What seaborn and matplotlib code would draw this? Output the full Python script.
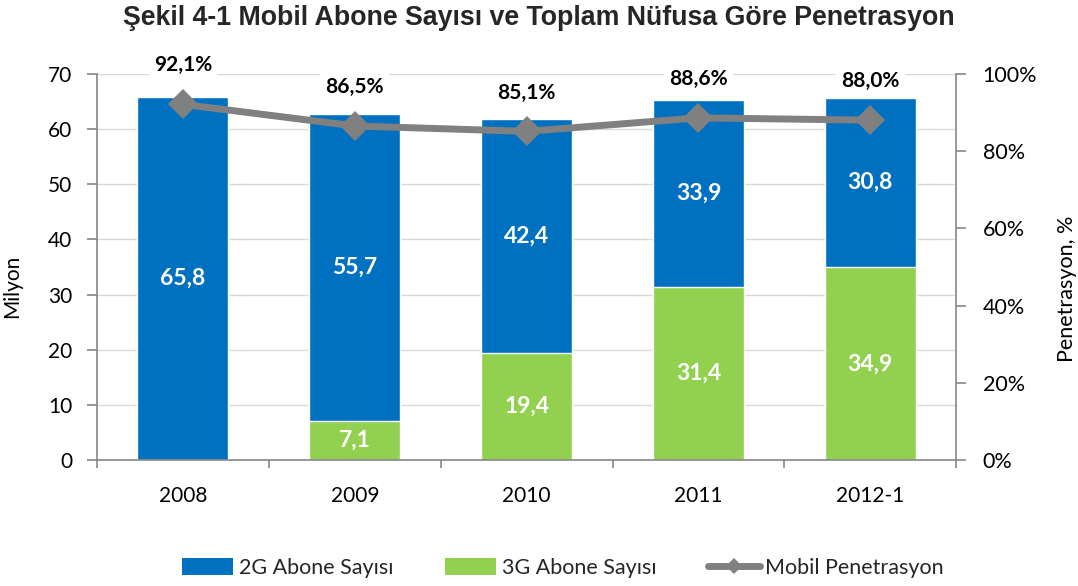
import matplotlib
matplotlib.use("Agg")
import matplotlib.pyplot as plt
from matplotlib.patches import Patch
from matplotlib.lines import Line2D
from matplotlib.ticker import FixedLocator, FuncFormatter
import seaborn as sns
import pandas as pd

# Subscriber counts (millions) and penetration (%) per period
years = ["2008", "2009", "2010", "2011", "2012-1"]
abone_2g = [65.8, 55.7, 42.4, 33.9, 30.8]
abone_3g = [0.0, 7.1, 19.4, 31.4, 34.9]
penetrasyon = [92.1, 86.5, 85.1, 88.6, 88.0]

BLUE = "#0070C0"
GREEN = "#92D050"
GRAY = "#808080"
AXIS = "#868686"
GRID = "#D9D9D9"

sns.set_theme(style="white")
plt.rcParams["font.family"] = ["Lato", "DejaVu Sans"]

df = pd.DataFrame({"yil": years, "g2": abone_2g, "g3": abone_3g, "pen": penetrasyon})
df["toplam"] = df["g2"] + df["g3"]

fig = plt.figure(figsize=(10.78, 5.86), dpi=100)
ax = fig.add_axes([0.09, 0.215, 0.797, 0.659])

# stacked columns: total in blue, 3G share drawn over the lower part in green
sns.barplot(data=df, x="yil", y="toplam", color=BLUE, saturation=1, width=0.53, ax=ax)
sns.barplot(data=df, x="yil", y="g3", color=GREEN, saturation=1, width=0.53, ax=ax)
ax.set_xlim(-0.5, len(years) - 0.5)
ax.set_ylim(0, 70)
ax.set_yticks(range(0, 71, 10))
ax.set_axisbelow(True)
ax.yaxis.grid(True, color=GRID, linewidth=1)
ax.xaxis.grid(False)

for i, row in df.iterrows():
    ax.text(i, row["g3"] + row["g2"] / 2, f"{row['g2']:.1f}".replace(".", ","),
            ha="center", va="center", color="white", fontsize=16.5, fontweight="bold")
    if row["g3"] > 0:
        ax.text(i, row["g3"] / 2, f"{row['g3']:.1f}".replace(".", ","),
                ha="center", va="center", color="white", fontsize=16.5, fontweight="bold")

for side in ["top", "right"]:
    ax.spines[side].set_visible(False)
for side in ["left", "bottom"]:
    ax.spines[side].set_color(AXIS)
    ax.spines[side].set_linewidth(1.2)

ax.tick_params(axis="y", which="major", direction="out", length=7, width=1.2,
               color=AXIS, pad=11, labelsize=15, labelcolor="black", left=True)
ax.tick_params(axis="x", which="major", length=0, pad=19, labelsize=15, labelcolor="black")
ax.xaxis.set_minor_locator(FixedLocator([k - 0.5 for k in range(len(years) + 1)]))
ax.tick_params(axis="x", which="minor", direction="out", length=6, width=1.2,
               color=AXIS, bottom=True)
ax.set_xlabel("")
ax.set_ylabel("Milyon", fontsize=15, color="black")
ax.yaxis.set_label_coords(-0.087, 0.45)

# penetration line on the secondary axis
ax2 = ax.twinx()
sns.lineplot(x=list(range(len(years))), y=penetrasyon, ax=ax2, color=GRAY,
             linewidth=5, marker="D", markersize=15, markeredgewidth=0, sort=False)
ax2.set_ylim(0, 100)
ax2.set_yticks(range(0, 101, 20))
ax2.yaxis.set_major_formatter(FuncFormatter(lambda v, _: f"{v:.0f}%"))
ax2.set_xlim(-0.5, len(years) - 0.5)
for side in ["top", "left", "bottom"]:
    ax2.spines[side].set_visible(False)
ax2.spines["right"].set_color(AXIS)
ax2.spines["right"].set_linewidth(1.2)
ax2.tick_params(axis="y", direction="out", length=7, width=1.2, color=AXIS,
                pad=12, labelsize=15.5, labelcolor="black", right=True)
ax2.grid(False)
ax2.set_ylabel("Penetrasyon, %", fontsize=15.5, color="black")
ax2.yaxis.set_label_coords(1.117, 0.443)

for i, p in enumerate(penetrasyon):
    ax2.annotate(f"{p:.1f}%".replace(".", ","), (i, p), xytext=(0, 28),
                 textcoords="offset points", ha="center", va="center",
                 fontsize=15, fontweight="bold", color="black",
                 bbox=dict(boxstyle="square,pad=0.25", fc="white", ec="none"))

fig.text(0.5, 0.969, "Şekil 4-1 Mobil Abone Sayısı ve Toplam Nüfusa Göre Penetrasyon",
         ha="center", va="center", fontsize=19.3, fontweight="bold",
         family=["Liberation Sans", "DejaVu Sans"])

handles = [
    Patch(facecolor=BLUE, edgecolor="none"),
    Patch(facecolor=GREEN, edgecolor="none"),
    Line2D([0], [0], color=GRAY, linewidth=5, marker="D", markersize=8,
           markeredgewidth=0),
]
fig.legend(handles, ["2G Abone Sayısı", "3G Abone Sayısı", "Mobil Penetrasyon"],
           loc="center", bbox_to_anchor=(0.522, 0.031), ncol=3, frameon=False,
           fontsize=15.5, columnspacing=2.4, handlelength=2.4, handleheight=0.8,
           handletextpad=0.25)

fig.savefig("out.png", dpi=100)
